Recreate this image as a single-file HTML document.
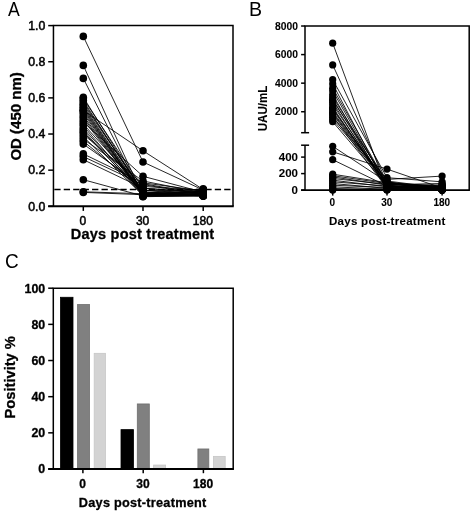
<!DOCTYPE html>
<html><head><meta charset="utf-8"><style>
html,body{margin:0;padding:0;background:#fff;}
svg{display:block;filter:grayscale(1);}
text{font-family:"Liberation Sans", sans-serif;fill:#000;}
.r{stroke:#000;stroke-width:0.5px;}
text[font-weight="bold"]{stroke:#000;stroke-width:0.3px;}
text.l{stroke-width:0.08px;}
</style></head><body>
<svg width="472" height="514" viewBox="0 0 472 514">
<rect width="472" height="514" fill="#fff"/>
<path d="M83.3 36.4L143.0 162.0L203.2 190.0 M83.3 65.4L143.0 196.4L203.2 195.1 M83.3 78.4L143.0 196.7L203.2 195.8 M83.3 110.5L143.0 150.8L203.2 189.5 M83.3 179.7L143.0 196.0L203.2 195.5 M83.3 191.8L143.0 193.7L203.2 194.4 M83.3 192.4L143.0 194.7L203.2 195.5 M83.3 97.3L143.0 192.6L203.2 192.0 M83.3 98.8L143.0 188.2L203.2 193.4 M83.3 100.6L143.0 193.7L203.2 188.8 M83.3 102.4L143.0 191.8L203.2 196.2 M83.3 104.2L143.0 190.9L203.2 189.7 M83.3 105.8L143.0 194.0L203.2 194.2 M83.3 107.3L143.0 194.7L203.2 195.4 M83.3 108.7L143.0 195.8L203.2 195.6 M83.3 110.2L143.0 195.5L203.2 194.1 M83.3 112.0L143.0 195.1L203.2 190.1 M83.3 113.8L143.0 194.4L203.2 195.1 M83.3 116.0L143.0 194.7L203.2 191.9 M83.3 117.8L143.0 195.1L203.2 191.5 M83.3 119.9L143.0 194.6L203.2 193.6 M83.3 122.1L143.0 176.3L203.2 192.2 M83.3 124.1L143.0 190.0L203.2 196.0 M83.3 125.9L143.0 195.5L203.2 196.1 M83.3 128.6L143.0 192.7L203.2 194.9 M83.3 130.4L143.0 195.8L203.2 191.1 M83.3 132.2L143.0 193.7L203.2 193.1 M83.3 134.4L143.0 183.7L203.2 194.0 M83.3 136.7L143.0 195.5L203.2 191.9 M83.3 139.1L143.0 181.0L203.2 192.9 M83.3 141.2L143.0 190.0L203.2 194.2 M83.3 144.1L143.0 186.4L203.2 190.2 M83.3 153.9L143.0 182.8L203.2 191.0 M83.3 156.6L143.0 184.6L203.2 194.6 M83.3 159.7L143.0 188.2L203.2 192.0" fill="none" stroke="#000" stroke-width="0.85"/>
<g fill="#000"><circle cx="83.3" cy="36.4" r="3.8"/><circle cx="143.0" cy="162.0" r="3.8"/><circle cx="203.2" cy="190.0" r="3.8"/><circle cx="83.3" cy="65.4" r="3.8"/><circle cx="143.0" cy="196.4" r="3.8"/><circle cx="203.2" cy="195.1" r="3.8"/><circle cx="83.3" cy="78.4" r="3.8"/><circle cx="143.0" cy="196.7" r="3.8"/><circle cx="203.2" cy="195.8" r="3.8"/><circle cx="83.3" cy="110.5" r="3.8"/><circle cx="143.0" cy="150.8" r="3.8"/><circle cx="203.2" cy="189.5" r="3.8"/><circle cx="83.3" cy="179.7" r="3.8"/><circle cx="143.0" cy="196.0" r="3.8"/><circle cx="203.2" cy="195.5" r="3.8"/><circle cx="83.3" cy="191.8" r="3.8"/><circle cx="143.0" cy="193.7" r="3.8"/><circle cx="203.2" cy="194.4" r="3.8"/><circle cx="83.3" cy="192.4" r="3.8"/><circle cx="143.0" cy="194.7" r="3.8"/><circle cx="203.2" cy="195.5" r="3.8"/><circle cx="83.3" cy="97.3" r="3.8"/><circle cx="143.0" cy="192.6" r="3.8"/><circle cx="203.2" cy="192.0" r="3.8"/><circle cx="83.3" cy="98.8" r="3.8"/><circle cx="143.0" cy="188.2" r="3.8"/><circle cx="203.2" cy="193.4" r="3.8"/><circle cx="83.3" cy="100.6" r="3.8"/><circle cx="143.0" cy="193.7" r="3.8"/><circle cx="203.2" cy="188.8" r="3.8"/><circle cx="83.3" cy="102.4" r="3.8"/><circle cx="143.0" cy="191.8" r="3.8"/><circle cx="203.2" cy="196.2" r="3.8"/><circle cx="83.3" cy="104.2" r="3.8"/><circle cx="143.0" cy="190.9" r="3.8"/><circle cx="203.2" cy="189.7" r="3.8"/><circle cx="83.3" cy="105.8" r="3.8"/><circle cx="143.0" cy="194.0" r="3.8"/><circle cx="203.2" cy="194.2" r="3.8"/><circle cx="83.3" cy="107.3" r="3.8"/><circle cx="143.0" cy="194.7" r="3.8"/><circle cx="203.2" cy="195.4" r="3.8"/><circle cx="83.3" cy="108.7" r="3.8"/><circle cx="143.0" cy="195.8" r="3.8"/><circle cx="203.2" cy="195.6" r="3.8"/><circle cx="83.3" cy="110.2" r="3.8"/><circle cx="143.0" cy="195.5" r="3.8"/><circle cx="203.2" cy="194.1" r="3.8"/><circle cx="83.3" cy="112.0" r="3.8"/><circle cx="143.0" cy="195.1" r="3.8"/><circle cx="203.2" cy="190.1" r="3.8"/><circle cx="83.3" cy="113.8" r="3.8"/><circle cx="143.0" cy="194.4" r="3.8"/><circle cx="203.2" cy="195.1" r="3.8"/><circle cx="83.3" cy="116.0" r="3.8"/><circle cx="143.0" cy="194.7" r="3.8"/><circle cx="203.2" cy="191.9" r="3.8"/><circle cx="83.3" cy="117.8" r="3.8"/><circle cx="143.0" cy="195.1" r="3.8"/><circle cx="203.2" cy="191.5" r="3.8"/><circle cx="83.3" cy="119.9" r="3.8"/><circle cx="143.0" cy="194.6" r="3.8"/><circle cx="203.2" cy="193.6" r="3.8"/><circle cx="83.3" cy="122.1" r="3.8"/><circle cx="143.0" cy="176.3" r="3.8"/><circle cx="203.2" cy="192.2" r="3.8"/><circle cx="83.3" cy="124.1" r="3.8"/><circle cx="143.0" cy="190.0" r="3.8"/><circle cx="203.2" cy="196.0" r="3.8"/><circle cx="83.3" cy="125.9" r="3.8"/><circle cx="143.0" cy="195.5" r="3.8"/><circle cx="203.2" cy="196.1" r="3.8"/><circle cx="83.3" cy="128.6" r="3.8"/><circle cx="143.0" cy="192.7" r="3.8"/><circle cx="203.2" cy="194.9" r="3.8"/><circle cx="83.3" cy="130.4" r="3.8"/><circle cx="143.0" cy="195.8" r="3.8"/><circle cx="203.2" cy="191.1" r="3.8"/><circle cx="83.3" cy="132.2" r="3.8"/><circle cx="143.0" cy="193.7" r="3.8"/><circle cx="203.2" cy="193.1" r="3.8"/><circle cx="83.3" cy="134.4" r="3.8"/><circle cx="143.0" cy="183.7" r="3.8"/><circle cx="203.2" cy="194.0" r="3.8"/><circle cx="83.3" cy="136.7" r="3.8"/><circle cx="143.0" cy="195.5" r="3.8"/><circle cx="203.2" cy="191.9" r="3.8"/><circle cx="83.3" cy="139.1" r="3.8"/><circle cx="143.0" cy="181.0" r="3.8"/><circle cx="203.2" cy="192.9" r="3.8"/><circle cx="83.3" cy="141.2" r="3.8"/><circle cx="143.0" cy="190.0" r="3.8"/><circle cx="203.2" cy="194.2" r="3.8"/><circle cx="83.3" cy="144.1" r="3.8"/><circle cx="143.0" cy="186.4" r="3.8"/><circle cx="203.2" cy="190.2" r="3.8"/><circle cx="83.3" cy="153.9" r="3.8"/><circle cx="143.0" cy="182.8" r="3.8"/><circle cx="203.2" cy="191.0" r="3.8"/><circle cx="83.3" cy="156.6" r="3.8"/><circle cx="143.0" cy="184.6" r="3.8"/><circle cx="203.2" cy="194.6" r="3.8"/><circle cx="83.3" cy="159.7" r="3.8"/><circle cx="143.0" cy="188.2" r="3.8"/><circle cx="203.2" cy="192.0" r="3.8"/></g>
<line x1="53.45" y1="189.5" x2="233.0" y2="189.5" stroke="#000" stroke-width="1.5" stroke-dasharray="6.3 3.14" stroke-dashoffset="-0.85"/>
<path d="M53.45 206.3V25.6H233.0V206.3" fill="none" stroke="#000" stroke-width="1.5"/>
<line x1="48.2" y1="206.3" x2="233.75" y2="206.3" stroke="#000" stroke-width="2"/>
<line x1="48.2" y1="206.30" x2="53.45" y2="206.30" stroke="#000" stroke-width="1.5"/>
<text x="45.4" y="210.60" text-anchor="end" font-size="12.3" class="r">0.0</text>
<line x1="48.2" y1="170.16" x2="53.45" y2="170.16" stroke="#000" stroke-width="1.5"/>
<text x="45.4" y="174.46" text-anchor="end" font-size="12.3" class="r">0.2</text>
<line x1="48.2" y1="134.02" x2="53.45" y2="134.02" stroke="#000" stroke-width="1.5"/>
<text x="45.4" y="138.32" text-anchor="end" font-size="12.3" class="r">0.4</text>
<line x1="48.2" y1="97.88" x2="53.45" y2="97.88" stroke="#000" stroke-width="1.5"/>
<text x="45.4" y="102.18" text-anchor="end" font-size="12.3" class="r">0.6</text>
<line x1="48.2" y1="61.74" x2="53.45" y2="61.74" stroke="#000" stroke-width="1.5"/>
<text x="45.4" y="66.04" text-anchor="end" font-size="12.3" class="r">0.8</text>
<line x1="48.2" y1="25.60" x2="53.45" y2="25.60" stroke="#000" stroke-width="1.5"/>
<text x="45.4" y="29.90" text-anchor="end" font-size="12.3" class="r">1.0</text>
<line x1="83.3" y1="206.3" x2="83.3" y2="210.9" stroke="#000" stroke-width="1.5"/>
<text x="82.89999999999999" y="224.6" text-anchor="middle" font-size="12" class="r">0</text>
<line x1="143.0" y1="206.3" x2="143.0" y2="210.9" stroke="#000" stroke-width="1.5"/>
<text x="142.6" y="224.6" text-anchor="middle" font-size="12" class="r">30</text>
<line x1="203.2" y1="206.3" x2="203.2" y2="210.9" stroke="#000" stroke-width="1.5"/>
<text x="202.79999999999998" y="224.6" text-anchor="middle" font-size="12" class="r">180</text>
<text x="70.8" y="238.8" font-size="14.5" font-weight="bold" textLength="143.4" lengthAdjust="spacing">Days post treatment</text>
<text transform="translate(20.8 116.4) rotate(-90)" text-anchor="middle" font-size="15" font-weight="bold">OD (450 nm)</text>
<text transform="translate(8.1 16.45) scale(0.84 1)" font-size="21">A</text>
<path d="M332.7 43.2L387.0 189.7L442.1 189.3 M332.7 64.9L387.0 182.7L442.1 186.8 M332.7 146.3L387.0 182.0L442.1 188.4 M332.7 151.8L387.0 169.1L442.1 188.0 M332.7 159.7L387.0 186.0L442.1 190.1 M332.7 79.7L387.0 177.7L442.1 181.8 M332.7 83.9L387.0 187.6L442.1 186.0 M332.7 88.2L387.0 183.5L442.1 188.4 M332.7 91.0L387.0 186.0L442.1 187.2 M332.7 94.6L387.0 189.3L442.1 189.7 M332.7 97.0L387.0 183.1L442.1 189.7 M332.7 99.2L387.0 186.8L442.1 188.9 M332.7 102.2L387.0 188.9L442.1 190.1 M332.7 104.6L387.0 185.2L442.1 190.1 M332.7 107.2L387.0 187.6L442.1 190.1 M332.7 109.6L387.0 184.3L442.1 186.4 M332.7 111.9L387.0 182.7L442.1 187.6 M332.7 114.0L387.0 186.4L442.1 189.3 M332.7 116.0L387.0 188.4L442.1 190.1 M332.7 117.6L387.0 179.4L442.1 176.1 M332.7 119.6L387.0 181.8L442.1 190.1 M332.7 121.7L387.0 185.6L442.1 189.3 M332.7 100.5L387.0 181.0L442.1 188.0 M332.7 108.5L387.0 184.7L442.1 183.5 M332.7 113.0L387.0 183.9L442.1 185.2 M332.7 174.2L387.0 182.7L442.1 190.1 M332.7 175.7L387.0 183.5L442.1 189.3 M332.7 176.9L387.0 185.2L442.1 188.4 M332.7 178.5L387.0 184.3L442.1 186.8 M332.7 180.2L387.0 186.8L442.1 185.2 M332.7 181.8L387.0 186.0L442.1 190.1 M332.7 183.5L387.0 188.4L442.1 189.7 M332.7 185.2L387.0 187.6L442.1 187.6 M332.7 186.8L387.0 189.3L442.1 188.9 M332.7 188.4L387.0 189.7L442.1 190.1 M332.7 189.7L387.0 190.1L442.1 188.0 M332.7 190.1L387.0 188.9L442.1 189.3" fill="none" stroke="#000" stroke-width="0.85"/>
<path d="M305.0 132.7V26.1H469.2V190.1" fill="none" stroke="#000" stroke-width="1.5"/>
<line x1="305.0" y1="145.2" x2="305.0" y2="190.1" stroke="#000" stroke-width="1.5"/>
<line x1="301.1" y1="190.1" x2="469.95" y2="190.1" stroke="#000" stroke-width="1.6"/>
<line x1="301.1" y1="132.7" x2="309.1" y2="132.7" stroke="#000" stroke-width="1.5"/>
<line x1="301.1" y1="145.2" x2="309.1" y2="145.2" stroke="#000" stroke-width="1.5"/>
<line x1="301.1" y1="26.02" x2="305.0" y2="26.02" stroke="#000" stroke-width="1.5"/>
<text x="298" y="29.72" text-anchor="end" font-size="10.3" font-weight="bold" class="l">8000</text>
<line x1="301.1" y1="54.59" x2="305.0" y2="54.59" stroke="#000" stroke-width="1.5"/>
<text x="298" y="58.29" text-anchor="end" font-size="10.3" font-weight="bold" class="l">6000</text>
<line x1="301.1" y1="83.16" x2="305.0" y2="83.16" stroke="#000" stroke-width="1.5"/>
<text x="298" y="86.86" text-anchor="end" font-size="10.3" font-weight="bold" class="l">4000</text>
<line x1="301.1" y1="111.73" x2="305.0" y2="111.73" stroke="#000" stroke-width="1.5"/>
<text x="298" y="115.43" text-anchor="end" font-size="10.3" font-weight="bold" class="l">2000</text>
<line x1="301.1" y1="157.10" x2="305.0" y2="157.10" stroke="#000" stroke-width="1.5"/>
<text x="298" y="160.60" text-anchor="end" font-size="11.5" font-weight="bold" class="l">400</text>
<line x1="301.1" y1="173.60" x2="305.0" y2="173.60" stroke="#000" stroke-width="1.5"/>
<text x="298" y="177.10" text-anchor="end" font-size="11.5" font-weight="bold" class="l">200</text>
<line x1="301.1" y1="190.10" x2="305.0" y2="190.10" stroke="#000" stroke-width="1.5"/>
<text x="298" y="193.60" text-anchor="end" font-size="11.5" font-weight="bold" class="l">0</text>
<line x1="332.7" y1="190.1" x2="332.7" y2="195.6" stroke="#000" stroke-width="1.5"/>
<text x="332.4" y="205.6" text-anchor="middle" font-size="10" font-weight="bold" class="l">0</text>
<line x1="387.0" y1="190.1" x2="387.0" y2="195.6" stroke="#000" stroke-width="1.5"/>
<text x="386.7" y="205.6" text-anchor="middle" font-size="10" font-weight="bold" class="l">30</text>
<line x1="442.1" y1="190.1" x2="442.1" y2="195.6" stroke="#000" stroke-width="1.5"/>
<text x="441.8" y="205.6" text-anchor="middle" font-size="10" font-weight="bold" class="l">180</text>
<g fill="#000"><circle cx="332.7" cy="43.2" r="3.6"/><circle cx="387.0" cy="189.7" r="3.6"/><circle cx="442.1" cy="189.3" r="3.6"/><circle cx="332.7" cy="64.9" r="3.6"/><circle cx="387.0" cy="182.7" r="3.6"/><circle cx="442.1" cy="186.8" r="3.6"/><circle cx="332.7" cy="146.3" r="3.6"/><circle cx="387.0" cy="182.0" r="3.6"/><circle cx="442.1" cy="188.4" r="3.6"/><circle cx="332.7" cy="151.8" r="3.6"/><circle cx="387.0" cy="169.1" r="3.6"/><circle cx="442.1" cy="188.0" r="3.6"/><circle cx="332.7" cy="159.7" r="3.6"/><circle cx="387.0" cy="186.0" r="3.6"/><circle cx="442.1" cy="190.1" r="3.6"/><circle cx="332.7" cy="79.7" r="3.6"/><circle cx="387.0" cy="177.7" r="3.6"/><circle cx="442.1" cy="181.8" r="3.6"/><circle cx="332.7" cy="83.9" r="3.6"/><circle cx="387.0" cy="187.6" r="3.6"/><circle cx="442.1" cy="186.0" r="3.6"/><circle cx="332.7" cy="88.2" r="3.6"/><circle cx="387.0" cy="183.5" r="3.6"/><circle cx="442.1" cy="188.4" r="3.6"/><circle cx="332.7" cy="91.0" r="3.6"/><circle cx="387.0" cy="186.0" r="3.6"/><circle cx="442.1" cy="187.2" r="3.6"/><circle cx="332.7" cy="94.6" r="3.6"/><circle cx="387.0" cy="189.3" r="3.6"/><circle cx="442.1" cy="189.7" r="3.6"/><circle cx="332.7" cy="97.0" r="3.6"/><circle cx="387.0" cy="183.1" r="3.6"/><circle cx="442.1" cy="189.7" r="3.6"/><circle cx="332.7" cy="99.2" r="3.6"/><circle cx="387.0" cy="186.8" r="3.6"/><circle cx="442.1" cy="188.9" r="3.6"/><circle cx="332.7" cy="102.2" r="3.6"/><circle cx="387.0" cy="188.9" r="3.6"/><circle cx="442.1" cy="190.1" r="3.6"/><circle cx="332.7" cy="104.6" r="3.6"/><circle cx="387.0" cy="185.2" r="3.6"/><circle cx="442.1" cy="190.1" r="3.6"/><circle cx="332.7" cy="107.2" r="3.6"/><circle cx="387.0" cy="187.6" r="3.6"/><circle cx="442.1" cy="190.1" r="3.6"/><circle cx="332.7" cy="109.6" r="3.6"/><circle cx="387.0" cy="184.3" r="3.6"/><circle cx="442.1" cy="186.4" r="3.6"/><circle cx="332.7" cy="111.9" r="3.6"/><circle cx="387.0" cy="182.7" r="3.6"/><circle cx="442.1" cy="187.6" r="3.6"/><circle cx="332.7" cy="114.0" r="3.6"/><circle cx="387.0" cy="186.4" r="3.6"/><circle cx="442.1" cy="189.3" r="3.6"/><circle cx="332.7" cy="116.0" r="3.6"/><circle cx="387.0" cy="188.4" r="3.6"/><circle cx="442.1" cy="190.1" r="3.6"/><circle cx="332.7" cy="117.6" r="3.6"/><circle cx="387.0" cy="179.4" r="3.6"/><circle cx="442.1" cy="176.1" r="3.6"/><circle cx="332.7" cy="119.6" r="3.6"/><circle cx="387.0" cy="181.8" r="3.6"/><circle cx="442.1" cy="190.1" r="3.6"/><circle cx="332.7" cy="121.7" r="3.6"/><circle cx="387.0" cy="185.6" r="3.6"/><circle cx="442.1" cy="189.3" r="3.6"/><circle cx="332.7" cy="100.5" r="3.6"/><circle cx="387.0" cy="181.0" r="3.6"/><circle cx="442.1" cy="188.0" r="3.6"/><circle cx="332.7" cy="108.5" r="3.6"/><circle cx="387.0" cy="184.7" r="3.6"/><circle cx="442.1" cy="183.5" r="3.6"/><circle cx="332.7" cy="113.0" r="3.6"/><circle cx="387.0" cy="183.9" r="3.6"/><circle cx="442.1" cy="185.2" r="3.6"/><circle cx="332.7" cy="174.2" r="3.6"/><circle cx="387.0" cy="182.7" r="3.6"/><circle cx="442.1" cy="190.1" r="3.6"/><circle cx="332.7" cy="175.7" r="3.6"/><circle cx="387.0" cy="183.5" r="3.6"/><circle cx="442.1" cy="189.3" r="3.6"/><circle cx="332.7" cy="176.9" r="3.6"/><circle cx="387.0" cy="185.2" r="3.6"/><circle cx="442.1" cy="188.4" r="3.6"/><circle cx="332.7" cy="178.5" r="3.6"/><circle cx="387.0" cy="184.3" r="3.6"/><circle cx="442.1" cy="186.8" r="3.6"/><circle cx="332.7" cy="180.2" r="3.6"/><circle cx="387.0" cy="186.8" r="3.6"/><circle cx="442.1" cy="185.2" r="3.6"/><circle cx="332.7" cy="181.8" r="3.6"/><circle cx="387.0" cy="186.0" r="3.6"/><circle cx="442.1" cy="190.1" r="3.6"/><circle cx="332.7" cy="183.5" r="3.6"/><circle cx="387.0" cy="188.4" r="3.6"/><circle cx="442.1" cy="189.7" r="3.6"/><circle cx="332.7" cy="185.2" r="3.6"/><circle cx="387.0" cy="187.6" r="3.6"/><circle cx="442.1" cy="187.6" r="3.6"/><circle cx="332.7" cy="186.8" r="3.6"/><circle cx="387.0" cy="189.3" r="3.6"/><circle cx="442.1" cy="188.9" r="3.6"/><circle cx="332.7" cy="188.4" r="3.6"/><circle cx="387.0" cy="189.7" r="3.6"/><circle cx="442.1" cy="190.1" r="3.6"/><circle cx="332.7" cy="189.7" r="3.6"/><circle cx="387.0" cy="190.1" r="3.6"/><circle cx="442.1" cy="188.0" r="3.6"/><circle cx="332.7" cy="190.1" r="3.6"/><circle cx="387.0" cy="188.9" r="3.6"/><circle cx="442.1" cy="189.3" r="3.6"/></g>
<text x="329.0" y="225.3" font-size="11.5" font-weight="bold" class="l" textLength="116.3" lengthAdjust="spacing">Days post-treatment</text>
<text transform="translate(266.8 108.5) rotate(-90)" text-anchor="middle" font-size="12.4" font-weight="bold" class="l" textLength="45.4" lengthAdjust="spacingAndGlyphs">UAU/mL</text>
<text transform="translate(249.0 16.1) scale(0.95 1)" font-size="20.6">B</text>
<rect x="60.50" y="297.28" width="12.50" height="171.72" fill="#000" stroke="#000" stroke-width="0.8"/>
<rect x="77.60" y="304.51" width="11.90" height="164.49" fill="#808080" stroke="#6e6e6e" stroke-width="0.8"/>
<rect x="94.20" y="353.33" width="11.20" height="115.67" fill="#d3d3d3" stroke="#c6c6c6" stroke-width="0.8"/>
<rect x="121.00" y="429.62" width="12.50" height="39.38" fill="#000" stroke="#000" stroke-width="0.8"/>
<rect x="137.30" y="403.95" width="12.00" height="65.05" fill="#808080" stroke="#6e6e6e" stroke-width="0.8"/>
<rect x="153.60" y="465.06" width="12.00" height="3.94" fill="#d3d3d3" stroke="#c6c6c6" stroke-width="0.8"/>
<rect x="197.90" y="448.97" width="10.90" height="20.03" fill="#808080" stroke="#6e6e6e" stroke-width="0.8"/>
<rect x="213.40" y="456.38" width="11.80" height="12.62" fill="#d3d3d3" stroke="#c6c6c6" stroke-width="0.8"/>
<path d="M53.3 469.0V288.2H233.2V469.0" fill="none" stroke="#000" stroke-width="1.5"/>
<line x1="48.2" y1="469.0" x2="233.95" y2="469.0" stroke="#000" stroke-width="1.8"/>
<line x1="48.2" y1="469.00" x2="53.3" y2="469.00" stroke="#000" stroke-width="1.5"/>
<text x="45.2" y="473.40" text-anchor="end" font-size="12.4" font-weight="bold">0</text>
<line x1="48.2" y1="432.84" x2="53.3" y2="432.84" stroke="#000" stroke-width="1.5"/>
<text x="45.2" y="437.24" text-anchor="end" font-size="12.4" font-weight="bold">20</text>
<line x1="48.2" y1="396.68" x2="53.3" y2="396.68" stroke="#000" stroke-width="1.5"/>
<text x="45.2" y="401.08" text-anchor="end" font-size="12.4" font-weight="bold">40</text>
<line x1="48.2" y1="360.52" x2="53.3" y2="360.52" stroke="#000" stroke-width="1.5"/>
<text x="45.2" y="364.92" text-anchor="end" font-size="12.4" font-weight="bold">60</text>
<line x1="48.2" y1="324.36" x2="53.3" y2="324.36" stroke="#000" stroke-width="1.5"/>
<text x="45.2" y="328.76" text-anchor="end" font-size="12.4" font-weight="bold">80</text>
<line x1="48.2" y1="288.20" x2="53.3" y2="288.20" stroke="#000" stroke-width="1.5"/>
<text x="45.2" y="292.60" text-anchor="end" font-size="12.4" font-weight="bold">100</text>
<line x1="82.9" y1="469.0" x2="82.9" y2="473.2" stroke="#000" stroke-width="1.5"/>
<text x="82.60000000000001" y="488.3" text-anchor="middle" font-size="12" font-weight="bold">0</text>
<line x1="143.2" y1="469.0" x2="143.2" y2="473.2" stroke="#000" stroke-width="1.5"/>
<text x="142.89999999999998" y="488.3" text-anchor="middle" font-size="12" font-weight="bold">30</text>
<line x1="203.4" y1="469.0" x2="203.4" y2="473.2" stroke="#000" stroke-width="1.5"/>
<text x="203.1" y="488.3" text-anchor="middle" font-size="12" font-weight="bold">180</text>
<text x="78.8" y="507.1" font-size="12.7" font-weight="bold" textLength="127.5" lengthAdjust="spacing">Days post-treatment</text>
<text transform="translate(15.3 377.3) rotate(-90)" text-anchor="middle" font-size="14.7" font-weight="bold">Positivity %</text>
<text transform="translate(4.9 267.6) scale(0.95 1)" font-size="20">C</text>
</svg>
</body></html>
